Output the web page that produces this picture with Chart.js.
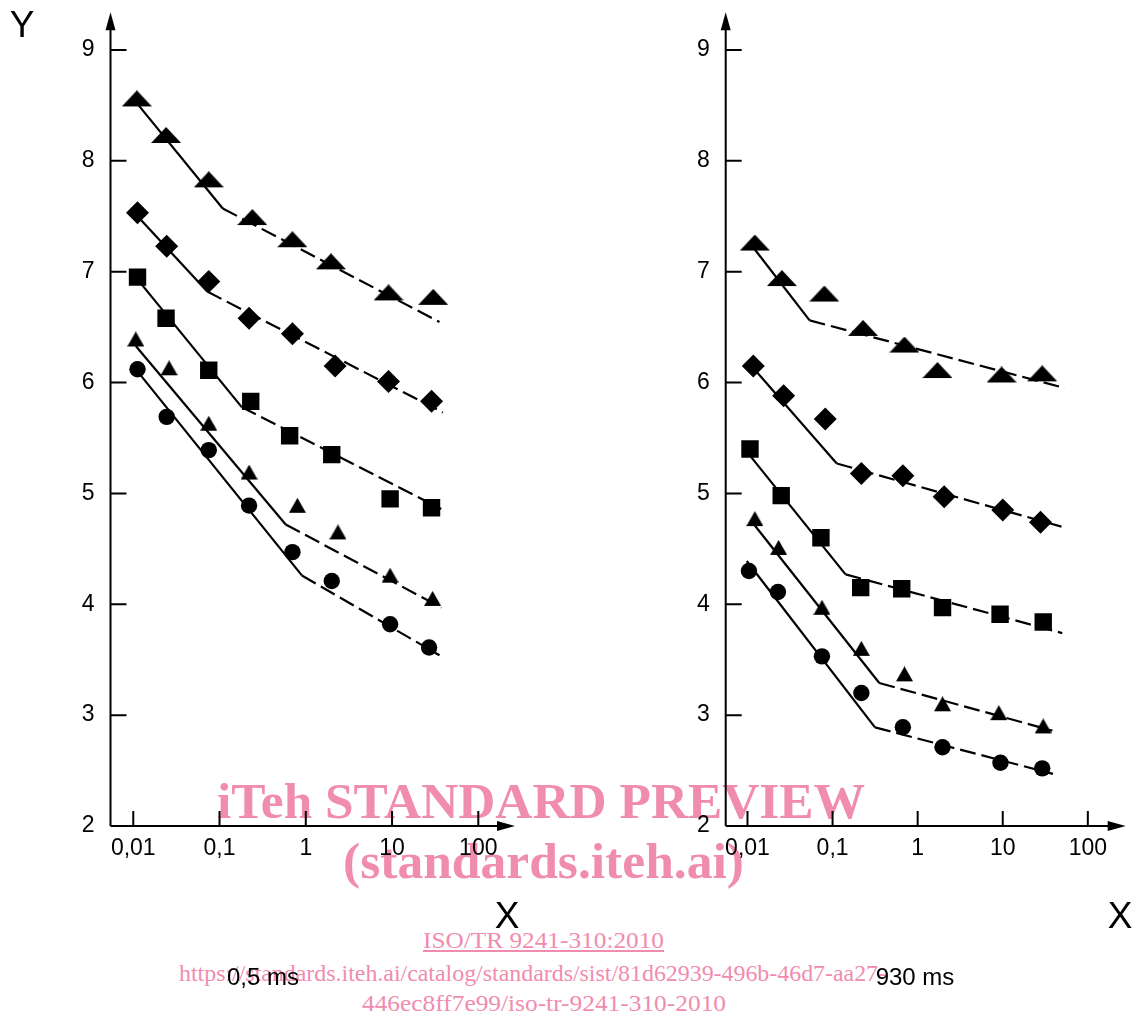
<!DOCTYPE html>
<html lang="en">
<head>
<meta charset="UTF-8">
<title>ISO/TR 9241-310 figure</title>
<script src="https://cdn.jsdelivr.net/npm/chart.js"></script>
<style>
  body { margin: 0; width: 1138px; height: 1019px; background: #fff; position: relative; overflow: hidden; }
  canvas { position: absolute; top: 0; z-index: 2; }
  .txt { position: absolute; line-height: 1; white-space: nowrap; transform-origin: 0 0; }
  .sans { font-family: "Liberation Sans", Arial, sans-serif; color: #000; z-index: 3; }
  .wm { font-family: "Liberation Serif", "Times New Roman", serif; color: #f08caf; z-index: 1; }
</style>
</head>
<body>
<canvas id="left" width="569" height="1019" style="left:0"></canvas>
<canvas id="right" width="569" height="1019" style="left:569px"></canvas>

<script>
// tick values
const xTicks = [0.01, 0.1, 1, 10, 100];
const yTicks = [2, 3, 4, 5, 6, 7, 8, 9];

// left panel (0,5 ms)
const leftTriUpperX = [0.011, 0.024, 0.075, 0.24, 0.70, 1.96, 9.1, 30];
const leftTriUpperY = [8.54, 8.21, 7.81, 7.47, 7.27, 7.07, 6.79, 6.75];
const leftDiamondX = [0.0112, 0.0244, 0.075, 0.22, 0.70, 2.19, 9.1, 28.7];
const leftDiamondY = [7.53, 7.23, 6.91, 6.58, 6.44, 6.15, 6.01, 5.83];
const leftSquareX = [0.0112, 0.024, 0.075, 0.23, 0.65, 2.0, 9.5, 28.7];
const leftSquareY = [6.95, 6.58, 6.11, 5.83, 5.52, 5.35, 4.95, 4.87];
const leftTriLowerX = [0.0107, 0.026, 0.075, 0.22, 0.80, 2.36, 9.5, 29.5];
const leftTriLowerY = [6.37, 6.11, 5.61, 5.17, 4.87, 4.63, 4.24, 4.03];
const leftCircleX = [0.0112, 0.0244, 0.075, 0.22, 0.70, 2.0, 9.5, 26.9];
const leftCircleY = [6.12, 5.69, 5.39, 4.89, 4.47, 4.21, 3.82, 3.61];

// left fitted lines: solid up to the break point, dashed after it
const leftTriUpperFitX = [0.011, 0.109, 35.5];
const leftTriUpperFitY = [8.52, 7.57, 6.545];
const leftDiamondFitX = [0.0112, 0.072, 38.9];
const leftDiamondFitY = [7.50, 6.82, 5.73];
const leftSquareFitX = [0.0112, 0.18, 37.2];
const leftSquareFitY = [6.93, 5.78, 4.86];
const leftTriLowerFitX = [0.0107, 0.585, 37.2];
const leftTriLowerFitY = [6.33, 4.72, 3.97];
const leftCircleFitX = [0.0112, 0.9, 35.5];
const leftCircleFitY = [6.10, 4.26, 3.54];

// right panel (930 ms)
const rightTriUpperX = [0.0122, 0.0254, 0.080, 0.228, 0.70, 1.71, 9.7, 29.1];
const rightTriUpperY = [7.24, 6.92, 6.78, 6.47, 6.32, 6.09, 6.05, 6.06];
const rightDiamondX = [0.0117, 0.0266, 0.082, 0.218, 0.67, 2.05, 10, 27.8];
const rightDiamondY = [6.15, 5.88, 5.67, 5.18, 5.16, 4.97, 4.85, 4.74];
const rightSquareX = [0.0107, 0.0249, 0.073, 0.214, 0.65, 1.96, 9.3, 29.9];
const rightSquareY = [5.40, 4.98, 4.60, 4.15, 4.14, 3.97, 3.91, 3.84];
const rightTriLowerX = [0.0122, 0.0232, 0.075, 0.218, 0.70, 1.96, 9.0, 29.9];
const rightTriLowerY = [4.75, 4.49, 3.95, 3.58, 3.35, 3.08, 3.00, 2.88];
const rightCircleX = [0.0104, 0.0228, 0.075, 0.218, 0.67, 1.96, 9.4, 29.1];
const rightCircleY = [4.30, 4.11, 3.53, 3.20, 2.89, 2.71, 2.57, 2.52];

const rightTriUpperFitX = [0.0122, 0.0537, 53.7];
const rightTriUpperFitY = [7.20, 6.56, 5.95];
const rightDiamondFitX = [0.0117, 0.112, 49];
const rightDiamondFitY = [6.13, 5.27, 4.70];
const rightSquareFitX = [0.0107, 0.142, 50];
const rightSquareFitY = [5.34, 4.27, 3.74];
const rightTriLowerFitX = [0.0122, 0.354, 38.3];
const rightTriLowerFitY = [4.71, 3.29, 2.86];
const rightCircleFitX = [0.0098, 0.315, 38.9];
const rightCircleFitY = [4.39, 2.89, 2.47];

// triangle marker drawn on a small canvas, centroid at the canvas centre
function triangle(w, h) {
  const c = document.createElement('canvas');
  c.width = w;
  c.height = Math.round(h * 4 / 3);
  const g = c.getContext('2d');
  g.fillStyle = '#000';
  g.beginPath();
  g.moveTo(w / 2, 0);
  g.lineTo(w, h);
  g.lineTo(0, h);
  g.closePath();
  g.fill();
  return c;
}

const marks = {
  bigTri: { pointStyle: triangle(30, 16), pointRadius: 8 },
  smallTri: { pointStyle: triangle(17, 15), pointRadius: 8 },
  diamond: { pointStyle: 'rectRot', pointRadius: 11.5 },
  square: { pointStyle: 'rect', pointRadius: 12.3 },
  circle: { pointStyle: 'circle', pointRadius: 8.2 }
};

const pts = (xs, ys) => xs.map((v, i) => ({ x: v, y: ys[i] }));

function buildDatasets(series) {
  const out = [];
  series.forEach(s => {
    out.push(Object.assign({
      data: pts(s.x, s.y),
      showLine: false,
      pointBackgroundColor: '#000',
      pointBorderWidth: 0,
      order: 0
    }, marks[s.mark]));
    out.push({
      data: pts(s.fx, s.fy),
      showLine: true,
      pointRadius: 0,
      borderColor: '#000',
      borderWidth: 2.2,
      segment: { borderDash: ctx => ctx.p0DataIndex === 0 ? undefined : [16, 6] },
      order: 1
    });
  });
  return out;
}

// axes with arrow heads and inward ticks
const arrowAxes = {
  id: 'arrowAxes',
  afterDraw(chart) {
    const { ctx, chartArea: a, scales } = chart;
    const sx = scales.x, sy = scales.y;
    ctx.save();
    ctx.strokeStyle = '#000';
    ctx.fillStyle = '#000';
    ctx.lineWidth = 2;
    ctx.beginPath();
    ctx.moveTo(a.left, a.bottom);
    ctx.lineTo(a.left, a.top + 14);
    ctx.moveTo(a.left, a.bottom);
    ctx.lineTo(a.right - 14, a.bottom);
    yTicks.slice(1).forEach(v => {
      const p = sy.getPixelForValue(v);
      ctx.moveTo(a.left, p);
      ctx.lineTo(a.left + 16, p);
    });
    xTicks.forEach(v => {
      const p = sx.getPixelForValue(v);
      ctx.moveTo(p, a.bottom);
      ctx.lineTo(p, a.bottom - 15);
    });
    ctx.stroke();
    ctx.beginPath();
    ctx.moveTo(a.left, a.top);
    ctx.lineTo(a.left - 5, a.top + 18);
    ctx.lineTo(a.left + 5, a.top + 18);
    ctx.closePath();
    ctx.fill();
    ctx.beginPath();
    ctx.moveTo(a.right, a.bottom);
    ctx.lineTo(a.right - 18, a.bottom - 5);
    ctx.lineTo(a.right - 18, a.bottom + 5);
    ctx.closePath();
    ctx.fill();
    ctx.restore();
  }
};

Chart.defaults.font.family = '"Liberation Sans", Arial, sans-serif';

function makeChart(id, series, o) {
  return new Chart(document.getElementById(id), {
    type: 'scatter',
    data: { datasets: buildDatasets(series) },
    options: {
      responsive: false,
      animation: false,
      layout: { padding: { top: 10, right: o.padRight, bottom: 0, left: 0 } },
      plugins: { legend: { display: false }, tooltip: { enabled: false } },
      scales: {
        x: {
          type: 'logarithmic',
          min: Math.pow(10, o.logMin),
          max: Math.pow(10, o.logMax),
          afterBuildTicks: s => { s.ticks = xTicks.map(v => ({ value: v })); },
          afterFit: s => { s.height = 193; s.paddingLeft = 0; s.paddingRight = 0; },
          grid: { display: false, drawTicks: false },
          border: { display: false },
          ticks: {
            autoSkip: false,
            maxRotation: 0,
            padding: 9,
            color: '#000',
            font: { size: 23 },
            callback: v => String(v).replace('.', ',')
          }
        },
        y: {
          type: 'linear',
          min: 2,
          max: 9.339,
          afterBuildTicks: s => { s.ticks = yTicks.map(v => ({ value: v })); },
          afterFit: s => { s.width = o.yWidth; s.paddingTop = 0; s.paddingBottom = 0; },
          grid: { display: false, drawTicks: false },
          border: { display: false },
          ticks: { padding: 16, color: '#000', font: { size: 23 } }
        }
      }
    },
    plugins: [arrowAxes]
  });
}

makeChart('left', [
  { x: leftTriUpperX, y: leftTriUpperY, fx: leftTriUpperFitX, fy: leftTriUpperFitY, mark: 'bigTri' },
  { x: leftDiamondX, y: leftDiamondY, fx: leftDiamondFitX, fy: leftDiamondFitY, mark: 'diamond' },
  { x: leftSquareX, y: leftSquareY, fx: leftSquareFitX, fy: leftSquareFitY, mark: 'square' },
  { x: leftTriLowerX, y: leftTriLowerY, fx: leftTriLowerFitX, fy: leftTriLowerFitY, mark: 'smallTri' },
  { x: leftCircleX, y: leftCircleY, fx: leftCircleFitX, fy: leftCircleFitY, mark: 'circle' }
], { yWidth: 110.5, padRight: 54, logMin: -2.264, logMax: 2.4255 });

makeChart('right', [
  { x: rightTriUpperX, y: rightTriUpperY, fx: rightTriUpperFitX, fy: rightTriUpperFitY, mark: 'bigTri' },
  { x: rightDiamondX, y: rightDiamondY, fx: rightDiamondFitX, fy: rightDiamondFitY, mark: 'diamond' },
  { x: rightSquareX, y: rightSquareY, fx: rightSquareFitX, fy: rightSquareFitY, mark: 'square' },
  { x: rightTriLowerX, y: rightTriLowerY, fx: rightTriLowerFitX, fy: rightTriLowerFitY, mark: 'smallTri' },
  { x: rightCircleX, y: rightCircleY, fx: rightCircleFitX, fy: rightCircleFitY, mark: 'circle' }
], { yWidth: 156.7, padRight: 8, logMin: -2.256, logMax: 2.445 });

// text outside the plot areas (axis names, captions, preview stamp)
const measure = document.createElement('canvas').getContext('2d');
function addText(text, o) {
  const d = document.createElement('div');
  d.className = 'txt ' + o.cls;
  d.textContent = text;
  const family = o.cls === 'wm' ? '"Liberation Serif", "Times New Roman", serif' : '"Liberation Sans", Arial, sans-serif';
  const weight = o.bold ? 'bold ' : '';
  measure.font = weight + o.size + 'px ' + family;
  const w = measure.measureText(text).width;
  const k = o.w ? o.w / w : 1;
  const asc = o.cls === 'wm' ? 0.8375 : 0.8465;
  d.style.fontSize = o.size + 'px';
  if (o.bold) d.style.fontWeight = 'bold';
  if (o.under) d.style.textDecoration = 'underline';
  d.style.left = (o.cx - w * k / 2) + 'px';
  d.style.top = (o.base - asc * o.size) + 'px';
  d.style.transform = 'scaleX(' + k + ')';
  document.body.appendChild(d);
}

addText('Y', { cls: 'sans', size: 37, cx: 22, base: 37 });
addText('X', { cls: 'sans', size: 37, cx: 507, base: 928 });
addText('X', { cls: 'sans', size: 37, cx: 1120, base: 928 });
addText('0,5 ms', { cls: 'sans', size: 24, cx: 263, base: 985 });
addText('930 ms', { cls: 'sans', size: 24, cx: 915, base: 985 });

addText('iTeh STANDARD PREVIEW', { cls: 'wm', size: 50, bold: true, cx: 541, base: 818, w: 648 });
addText('(standards.iteh.ai)', { cls: 'wm', size: 50, bold: true, cx: 543, base: 878, w: 401 });
addText('ISO/TR 9241-310:2010', { cls: 'wm', size: 24, under: true, cx: 543, base: 948, w: 241 });
addText('https://standards.iteh.ai/catalog/standards/sist/81d62939-496b-46d7-aa27-', { cls: 'wm', size: 23, cx: 532, base: 981, w: 707 });
addText('446ec8ff7e99/iso-tr-9241-310-2010', { cls: 'wm', size: 23, cx: 544, base: 1011, w: 364 });
</script>
</body>
</html>
